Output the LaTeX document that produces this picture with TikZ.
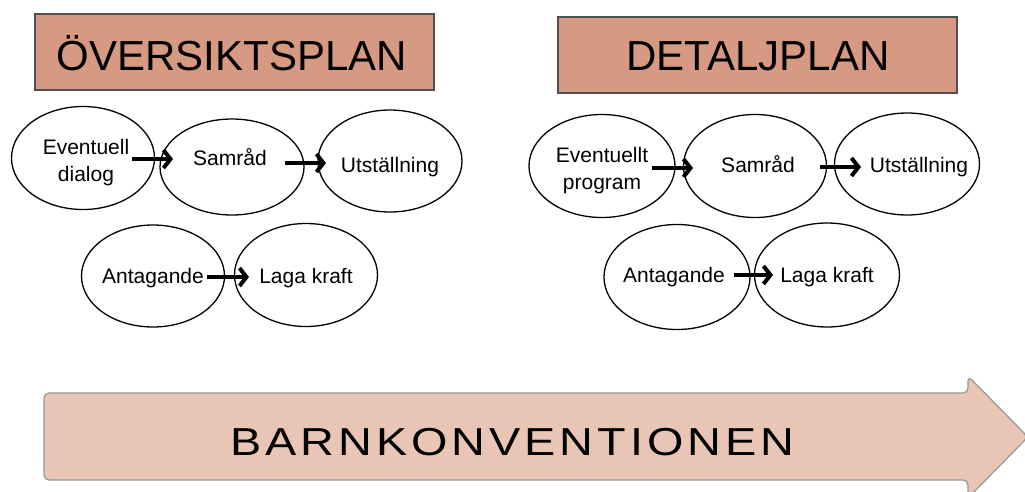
\documentclass[tikz,border=0pt]{standalone}
\usepackage{fontspec}
\setmainfont{Liberation Sans}
\usetikzlibrary{shapes.geometric,arrows.meta}
\definecolor{titlefill}{RGB}{214,154,131}
\definecolor{titleline}{RGB}{80,80,80}
\definecolor{bigfill}{RGB}{233,197,181}
\definecolor{bigline}{RGB}{150,150,150}
\begin{document}
\begin{tikzpicture}[x=1pt,y=-1pt,
  titlebox/.style={draw=titleline,line width=1.4pt,fill=titlefill,inner sep=0pt},
  titletext/.style={font=\fontsize{42}{48}\selectfont,inner sep=0pt,anchor=base},
  stage/.style={ellipse,draw,line width=1.3pt,inner sep=0pt},
  lbl/.style={font=\fontsize{21}{27}\selectfont,inner sep=0pt,align=center},
  flow/.style={line width=4pt,-{Straight Barb[length=7pt,width=18pt]}}
]
\useasboundingbox (0,0) rectangle (1025,491);
\fill[white] (0,0) rectangle (1025,491);

% title boxes
\node[titlebox,minimum width=399pt,minimum height=76pt] (t1) at (234.5,52) {};
\node[titletext] (t1txt) at (232,70) {ÖVERSIKTSPLAN};
\node[titlebox,minimum width=399pt,minimum height=76pt] (t2) at (757.5,55) {};
\node[titletext] (t2txt) at (758,70) {DETALJPLAN};

% left ellipses
\node[stage,minimum width=143pt,minimum height=103pt] (l1) at (83,158) {};
\node[stage,minimum width=144pt,minimum height=96pt] (l2) at (232,167) {};
\node[stage,minimum width=144pt,minimum height=102pt] (l3) at (390,161) {};
\node[stage,minimum width=143pt,minimum height=102pt] (l4) at (153,276) {};
\node[stage,minimum width=143pt,minimum height=103pt] (l5) at (306,275) {};

\node[lbl] (l1t) at (86,163) {Eventuell\\dialog};
\node[lbl,anchor=base] (l2t) at (230,165) {Samråd};
\node[lbl,anchor=base] (l3t) at (390,172) {Utställning};
\node[lbl,anchor=base] (l4t) at (153,283) {Antagande};
\node[lbl,anchor=base] (l5t) at (306,283) {Laga kraft};

% right ellipses
\node[stage,minimum width=146pt,minimum height=103pt] (r1) at (602,166) {};
\node[stage,minimum width=143pt,minimum height=103pt] (r2) at (755,166) {};
\node[stage,minimum width=145pt,minimum height=102pt] (r3) at (907,164) {};
\node[stage,minimum width=146pt,minimum height=105pt] (r4) at (677,277) {};
\node[stage,minimum width=145pt,minimum height=104pt] (r5) at (827,275) {};

\node[lbl] (r1t) at (602,171) {Eventuellt\\program};
\node[lbl,anchor=base] (r2t) at (758,172) {Samråd};
\node[lbl,anchor=base] (r3t) at (919,172) {Utställning};
\node[lbl,anchor=base] (r4t) at (674,282) {Antagande};
\node[lbl,anchor=base] (r5t) at (827,282) {Laga kraft};

% arrow end points
\coordinate (a1s) at (132,159); \coordinate (a1e) at (173,159);
\coordinate (a2s) at (285,163); \coordinate (a2e) at (326,163);
\coordinate (a3s) at (207,277); \coordinate (a3e) at (249,277);
\coordinate (b1s) at (652,168); \coordinate (b1e) at (693,168);
\coordinate (b2s) at (820,167); \coordinate (b2e) at (861,167);
\coordinate (b3s) at (734,275); \coordinate (b3e) at (773,275);

\draw[flow] (a1s) -- (a1e);
\draw[flow] (a2s) -- (a2e);
\draw[flow] (a3s) -- (a3e);
\draw[flow] (b1s) -- (b1e);
\draw[flow] (b2s) -- (b2e);
\draw[flow] (b3s) -- (b3e);

% big arrow
\draw[fill=bigfill,draw=bigline,line width=1.2pt,rounded corners=5pt]
  (44,393) -- (968,393) -- (968,376) -- (1028,437) -- (968,498) -- (968,480) -- (44,480) -- cycle;
\node[inner sep=0pt,anchor=base west,font=\fontsize{39}{44}\selectfont] (bk) at (230,455)
  {\scalebox{1.2}[1]{\addfontfeature{LetterSpace=8.5}BARNKONVENTIONEN}};
\end{tikzpicture}
\end{document}
